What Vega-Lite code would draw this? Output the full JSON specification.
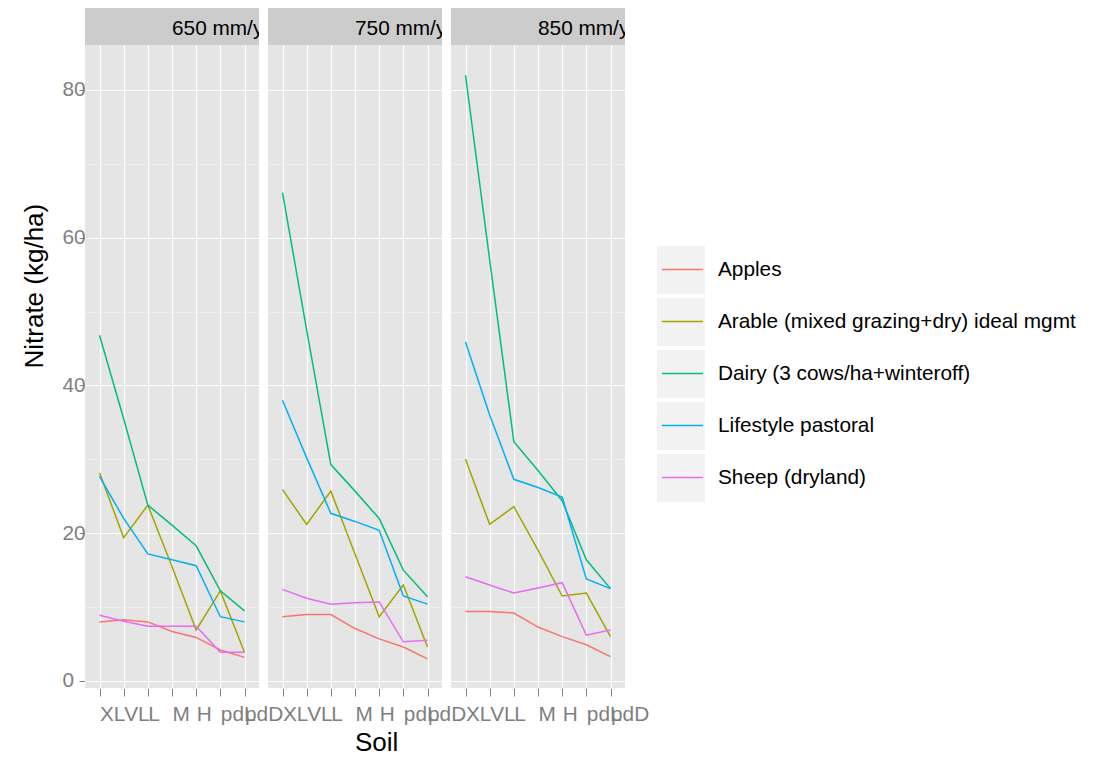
{
  "$schema": "https://vega.github.io/schema/vega-lite/v6.json",
  "background": "white",
  "padding": {"left": 21, "top": 8, "right": 5, "bottom": 0},
  "config": {
    "view": {"fill": "#E5E5E5", "stroke": null},
    "font": "Liberation Sans"
  },
  "data": {"values": [
    {"rain": "650 mm/yr", "use": "Apples", "soil": "XL", "nitrate": 8.0},
    {"rain": "650 mm/yr", "use": "Apples", "soil": "VL", "nitrate": 8.3},
    {"rain": "650 mm/yr", "use": "Apples", "soil": "L", "nitrate": 8.0},
    {"rain": "650 mm/yr", "use": "Apples", "soil": "M", "nitrate": 6.7},
    {"rain": "650 mm/yr", "use": "Apples", "soil": "H", "nitrate": 5.9},
    {"rain": "650 mm/yr", "use": "Apples", "soil": "pdL", "nitrate": 4.2},
    {"rain": "650 mm/yr", "use": "Apples", "soil": "pdD", "nitrate": 3.2},
    {"rain": "650 mm/yr", "use": "Arable (mixed grazing+dry) ideal mgmt", "soil": "XL", "nitrate": 28.2},
    {"rain": "650 mm/yr", "use": "Arable (mixed grazing+dry) ideal mgmt", "soil": "VL", "nitrate": 19.4},
    {"rain": "650 mm/yr", "use": "Arable (mixed grazing+dry) ideal mgmt", "soil": "L", "nitrate": 23.8},
    {"rain": "650 mm/yr", "use": "Arable (mixed grazing+dry) ideal mgmt", "soil": "M", "nitrate": 15.5},
    {"rain": "650 mm/yr", "use": "Arable (mixed grazing+dry) ideal mgmt", "soil": "H", "nitrate": 6.9},
    {"rain": "650 mm/yr", "use": "Arable (mixed grazing+dry) ideal mgmt", "soil": "pdL", "nitrate": 12.2},
    {"rain": "650 mm/yr", "use": "Arable (mixed grazing+dry) ideal mgmt", "soil": "pdD", "nitrate": 3.9},
    {"rain": "650 mm/yr", "use": "Dairy (3 cows/ha+winteroff)", "soil": "XL", "nitrate": 46.8},
    {"rain": "650 mm/yr", "use": "Dairy (3 cows/ha+winteroff)", "soil": "VL", "nitrate": 35.5},
    {"rain": "650 mm/yr", "use": "Dairy (3 cows/ha+winteroff)", "soil": "L", "nitrate": 23.8},
    {"rain": "650 mm/yr", "use": "Dairy (3 cows/ha+winteroff)", "soil": "M", "nitrate": 21.1},
    {"rain": "650 mm/yr", "use": "Dairy (3 cows/ha+winteroff)", "soil": "H", "nitrate": 18.3},
    {"rain": "650 mm/yr", "use": "Dairy (3 cows/ha+winteroff)", "soil": "pdL", "nitrate": 12.2},
    {"rain": "650 mm/yr", "use": "Dairy (3 cows/ha+winteroff)", "soil": "pdD", "nitrate": 9.5},
    {"rain": "650 mm/yr", "use": "Lifestyle pastoral", "soil": "XL", "nitrate": 27.7},
    {"rain": "650 mm/yr", "use": "Lifestyle pastoral", "soil": "VL", "nitrate": 22.0},
    {"rain": "650 mm/yr", "use": "Lifestyle pastoral", "soil": "L", "nitrate": 17.2},
    {"rain": "650 mm/yr", "use": "Lifestyle pastoral", "soil": "M", "nitrate": 16.4},
    {"rain": "650 mm/yr", "use": "Lifestyle pastoral", "soil": "H", "nitrate": 15.6},
    {"rain": "650 mm/yr", "use": "Lifestyle pastoral", "soil": "pdL", "nitrate": 8.7},
    {"rain": "650 mm/yr", "use": "Lifestyle pastoral", "soil": "pdD", "nitrate": 8.0},
    {"rain": "650 mm/yr", "use": "Sheep (dryland)", "soil": "XL", "nitrate": 8.9},
    {"rain": "650 mm/yr", "use": "Sheep (dryland)", "soil": "VL", "nitrate": 8.1},
    {"rain": "650 mm/yr", "use": "Sheep (dryland)", "soil": "L", "nitrate": 7.4},
    {"rain": "650 mm/yr", "use": "Sheep (dryland)", "soil": "M", "nitrate": 7.4},
    {"rain": "650 mm/yr", "use": "Sheep (dryland)", "soil": "H", "nitrate": 7.4},
    {"rain": "650 mm/yr", "use": "Sheep (dryland)", "soil": "pdL", "nitrate": 3.9},
    {"rain": "650 mm/yr", "use": "Sheep (dryland)", "soil": "pdD", "nitrate": 3.9},
    {"rain": "750 mm/yr", "use": "Apples", "soil": "XL", "nitrate": 8.7},
    {"rain": "750 mm/yr", "use": "Apples", "soil": "VL", "nitrate": 9.0},
    {"rain": "750 mm/yr", "use": "Apples", "soil": "L", "nitrate": 9.0},
    {"rain": "750 mm/yr", "use": "Apples", "soil": "M", "nitrate": 7.1},
    {"rain": "750 mm/yr", "use": "Apples", "soil": "H", "nitrate": 5.7},
    {"rain": "750 mm/yr", "use": "Apples", "soil": "pdL", "nitrate": 4.6},
    {"rain": "750 mm/yr", "use": "Apples", "soil": "pdD", "nitrate": 3.0},
    {"rain": "750 mm/yr", "use": "Arable (mixed grazing+dry) ideal mgmt", "soil": "XL", "nitrate": 25.9},
    {"rain": "750 mm/yr", "use": "Arable (mixed grazing+dry) ideal mgmt", "soil": "VL", "nitrate": 21.2},
    {"rain": "750 mm/yr", "use": "Arable (mixed grazing+dry) ideal mgmt", "soil": "L", "nitrate": 25.7},
    {"rain": "750 mm/yr", "use": "Arable (mixed grazing+dry) ideal mgmt", "soil": "M", "nitrate": 17.2},
    {"rain": "750 mm/yr", "use": "Arable (mixed grazing+dry) ideal mgmt", "soil": "H", "nitrate": 8.7},
    {"rain": "750 mm/yr", "use": "Arable (mixed grazing+dry) ideal mgmt", "soil": "pdL", "nitrate": 13.0},
    {"rain": "750 mm/yr", "use": "Arable (mixed grazing+dry) ideal mgmt", "soil": "pdD", "nitrate": 4.6},
    {"rain": "750 mm/yr", "use": "Dairy (3 cows/ha+winteroff)", "soil": "XL", "nitrate": 66.1},
    {"rain": "750 mm/yr", "use": "Dairy (3 cows/ha+winteroff)", "soil": "VL", "nitrate": 47.5},
    {"rain": "750 mm/yr", "use": "Dairy (3 cows/ha+winteroff)", "soil": "L", "nitrate": 29.3},
    {"rain": "750 mm/yr", "use": "Dairy (3 cows/ha+winteroff)", "soil": "M", "nitrate": 25.7},
    {"rain": "750 mm/yr", "use": "Dairy (3 cows/ha+winteroff)", "soil": "H", "nitrate": 22.0},
    {"rain": "750 mm/yr", "use": "Dairy (3 cows/ha+winteroff)", "soil": "pdL", "nitrate": 15.0},
    {"rain": "750 mm/yr", "use": "Dairy (3 cows/ha+winteroff)", "soil": "pdD", "nitrate": 11.4},
    {"rain": "750 mm/yr", "use": "Lifestyle pastoral", "soil": "XL", "nitrate": 38.0},
    {"rain": "750 mm/yr", "use": "Lifestyle pastoral", "soil": "VL", "nitrate": 30.2},
    {"rain": "750 mm/yr", "use": "Lifestyle pastoral", "soil": "L", "nitrate": 22.7},
    {"rain": "750 mm/yr", "use": "Lifestyle pastoral", "soil": "M", "nitrate": 21.6},
    {"rain": "750 mm/yr", "use": "Lifestyle pastoral", "soil": "H", "nitrate": 20.4},
    {"rain": "750 mm/yr", "use": "Lifestyle pastoral", "soil": "pdL", "nitrate": 11.5},
    {"rain": "750 mm/yr", "use": "Lifestyle pastoral", "soil": "pdD", "nitrate": 10.4},
    {"rain": "750 mm/yr", "use": "Sheep (dryland)", "soil": "XL", "nitrate": 12.4},
    {"rain": "750 mm/yr", "use": "Sheep (dryland)", "soil": "VL", "nitrate": 11.2},
    {"rain": "750 mm/yr", "use": "Sheep (dryland)", "soil": "L", "nitrate": 10.4},
    {"rain": "750 mm/yr", "use": "Sheep (dryland)", "soil": "M", "nitrate": 10.6},
    {"rain": "750 mm/yr", "use": "Sheep (dryland)", "soil": "H", "nitrate": 10.7},
    {"rain": "750 mm/yr", "use": "Sheep (dryland)", "soil": "pdL", "nitrate": 5.3},
    {"rain": "750 mm/yr", "use": "Sheep (dryland)", "soil": "pdD", "nitrate": 5.5},
    {"rain": "850 mm/yr", "use": "Apples", "soil": "XL", "nitrate": 9.4},
    {"rain": "850 mm/yr", "use": "Apples", "soil": "VL", "nitrate": 9.4},
    {"rain": "850 mm/yr", "use": "Apples", "soil": "L", "nitrate": 9.2},
    {"rain": "850 mm/yr", "use": "Apples", "soil": "M", "nitrate": 7.3},
    {"rain": "850 mm/yr", "use": "Apples", "soil": "H", "nitrate": 6.0},
    {"rain": "850 mm/yr", "use": "Apples", "soil": "pdL", "nitrate": 4.9},
    {"rain": "850 mm/yr", "use": "Apples", "soil": "pdD", "nitrate": 3.3},
    {"rain": "850 mm/yr", "use": "Arable (mixed grazing+dry) ideal mgmt", "soil": "XL", "nitrate": 30.0},
    {"rain": "850 mm/yr", "use": "Arable (mixed grazing+dry) ideal mgmt", "soil": "VL", "nitrate": 21.2},
    {"rain": "850 mm/yr", "use": "Arable (mixed grazing+dry) ideal mgmt", "soil": "L", "nitrate": 23.6},
    {"rain": "850 mm/yr", "use": "Arable (mixed grazing+dry) ideal mgmt", "soil": "M", "nitrate": 17.7},
    {"rain": "850 mm/yr", "use": "Arable (mixed grazing+dry) ideal mgmt", "soil": "H", "nitrate": 11.5},
    {"rain": "850 mm/yr", "use": "Arable (mixed grazing+dry) ideal mgmt", "soil": "pdL", "nitrate": 11.9},
    {"rain": "850 mm/yr", "use": "Arable (mixed grazing+dry) ideal mgmt", "soil": "pdD", "nitrate": 6.0},
    {"rain": "850 mm/yr", "use": "Dairy (3 cows/ha+winteroff)", "soil": "XL", "nitrate": 82.0},
    {"rain": "850 mm/yr", "use": "Dairy (3 cows/ha+winteroff)", "soil": "VL", "nitrate": 57.0},
    {"rain": "850 mm/yr", "use": "Dairy (3 cows/ha+winteroff)", "soil": "L", "nitrate": 32.4},
    {"rain": "850 mm/yr", "use": "Dairy (3 cows/ha+winteroff)", "soil": "M", "nitrate": 28.5},
    {"rain": "850 mm/yr", "use": "Dairy (3 cows/ha+winteroff)", "soil": "H", "nitrate": 24.4},
    {"rain": "850 mm/yr", "use": "Dairy (3 cows/ha+winteroff)", "soil": "pdL", "nitrate": 16.4},
    {"rain": "850 mm/yr", "use": "Dairy (3 cows/ha+winteroff)", "soil": "pdD", "nitrate": 12.5},
    {"rain": "850 mm/yr", "use": "Lifestyle pastoral", "soil": "XL", "nitrate": 45.9},
    {"rain": "850 mm/yr", "use": "Lifestyle pastoral", "soil": "VL", "nitrate": 36.0},
    {"rain": "850 mm/yr", "use": "Lifestyle pastoral", "soil": "L", "nitrate": 27.3},
    {"rain": "850 mm/yr", "use": "Lifestyle pastoral", "soil": "M", "nitrate": 26.2},
    {"rain": "850 mm/yr", "use": "Lifestyle pastoral", "soil": "H", "nitrate": 24.9},
    {"rain": "850 mm/yr", "use": "Lifestyle pastoral", "soil": "pdL", "nitrate": 13.8},
    {"rain": "850 mm/yr", "use": "Lifestyle pastoral", "soil": "pdD", "nitrate": 12.5},
    {"rain": "850 mm/yr", "use": "Sheep (dryland)", "soil": "XL", "nitrate": 14.1},
    {"rain": "850 mm/yr", "use": "Sheep (dryland)", "soil": "VL", "nitrate": 13.0},
    {"rain": "850 mm/yr", "use": "Sheep (dryland)", "soil": "L", "nitrate": 11.9},
    {"rain": "850 mm/yr", "use": "Sheep (dryland)", "soil": "M", "nitrate": 12.6},
    {"rain": "850 mm/yr", "use": "Sheep (dryland)", "soil": "H", "nitrate": 13.3},
    {"rain": "850 mm/yr", "use": "Sheep (dryland)", "soil": "pdL", "nitrate": 6.2},
    {"rain": "850 mm/yr", "use": "Sheep (dryland)", "soil": "pdD", "nitrate": 6.9}
  ]},
  "spacing": 9,
  "facet": {
    "column": {
      "field": "rain",
      "type": "nominal",
      "header": {
        "labels": false,
        "title": "Soil",
        "titleOrient": "bottom",
        "titleFont": "Liberation Sans",
        "titleFontSize": 26,
        "titleFontWeight": "normal",
        "titleColor": "black",
        "titleAlign": "left",
        "titleBaseline": "top",
        "titlePadding": -4
      }
    }
  },
  "spec": {
    "width": 174,
    "height": 680,
    "layer": [
      {
        "transform": [{"filter": "datum.soil === 'XL' && datum.use === 'Apples'"}],
        "mark": {"type": "rect", "color": "#CCCCCC"},
        "encoding": {
          "y": {"datum": 86.1},
          "y2": {"datum": 91.1}
        }
      },
      {
        "transform": [{"filter": "datum.soil === 'XL' && datum.use === 'Apples'"}],
        "mark": {"type": "text", "align": "left", "baseline": "middle", "dy": 3, "clip": true, "font": "Liberation Sans", "fontSize": 20.8, "color": "black"},
        "encoding": {
          "y": {"datum": 88.6},
          "text": {"field": "rain"}
        }
      },
      {
        "mark": {"type": "point", "filled": true, "opacity": 0},
        "encoding": {
          "x": {"field": "soil", "type": "ordinal", "sort": ["XL", "VL", "L", "M", "H", "pdL", "pdD"]},
          "y": {"field": "nitrate", "type": "quantitative"},
          "fill": {
            "field": "use",
            "type": "nominal",
            "scale": {"range": ["#F2F2F2"]},
            "legend": {
              "title": " ",
              "titleFontSize": 10,
              "titlePadding": 227,
              "orient": "right",
              "offset": 7,
              "zindex": 1,
              "symbolType": "square",
              "symbolSize": 2401,
              "symbolOpacity": 1,
              "symbolStrokeColor": "white",
              "symbolStrokeWidth": 1,
              "labelExpr": "''",
              "labelFontSize": 8,
              "rowPadding": -2
            }
          }
        }
      },
      {
        "mark": {"type": "line", "strokeWidth": 1.5},
        "encoding": {
          "x": {
            "field": "soil",
            "type": "ordinal",
            "sort": ["XL", "VL", "L", "M", "H", "pdL", "pdD"],
            "scale": {"type": "point", "padding": 0.6},
            "axis": {
              "title": null,
              "grid": true,
              "gridColor": "white",
              "gridWidth": 1.2,
              "domain": false,
              "ticks": true,
              "tickSize": 8,
              "tickColor": "#7F7F7F",
              "tickWidth": 1,
              "labelAngle": 0,
              "labelAlign": "left",
              "labelBaseline": "top",
              "labelPadding": 8,
              "labelOverlap": false,
              "labelBound": false,
              "labelFlush": false,
              "labelFont": "Liberation Sans",
              "labelFontSize": 20.8,
              "labelColor": "#7F7F7F"
            }
          },
          "y": {
            "field": "nitrate",
            "type": "quantitative",
            "scale": {"domain": [-0.95, 91.1], "nice": false, "zero": false},
            "axis": {
              "title": "Nitrate (kg/ha)",
              "values": [0, 10, 20, 30, 40, 50, 60, 70, 80],
              "labelExpr": "datum.value % 20 === 0 ? datum.label : ''",
              "grid": true,
              "gridColor": {"condition": {"test": "datum.value % 20 === 0", "value": "white"}, "value": "#F2F2F2"},
              "gridWidth": {"condition": {"test": "datum.value % 20 === 0", "value": 1.2}, "value": 0.7},
              "domain": false,
              "tickSize": 6,
              "tickColor": "#7F7F7F",
              "tickOpacity": {"condition": {"test": "datum.value % 20 === 0", "value": 1}, "value": 0},
              "labelAlign": "left",
              "labelPadding": 17,
              "labelFont": "Liberation Sans",
              "labelFontSize": 20.8,
              "labelColor": "#7F7F7F",
              "titleFont": "Liberation Sans",
              "titleFontSize": 26,
              "titleFontWeight": "normal",
              "titleColor": "black",
              "titleAlign": "left",
              "titleY": 360,
              "titlePadding": 15
            }
          },
          "color": {
            "field": "use",
            "type": "nominal",
            "scale": {
              "domain": ["Apples", "Arable (mixed grazing+dry) ideal mgmt", "Dairy (3 cows/ha+winteroff)", "Lifestyle pastoral", "Sheep (dryland)"],
              "range": ["#F8766D", "#A3A500", "#00BF7D", "#00B0F6", "#E76BF3"]
            },
            "legend": {
              "title": null,
              "orient": "none",
              "legendX": 576,
              "legendY": 240,
              "zindex": 2,
              "symbolType": "stroke",
              "symbolSize": 1700,
              "symbolStrokeWidth": 1.5,
              "labelFont": "Liberation Sans",
              "labelFontSize": 20.8,
              "labelColor": "black",
              "labelOffset": 14,
              "labelLimit": 600,
              "rowPadding": 20
            }
          }
        }
      }
    ]
  }
}
